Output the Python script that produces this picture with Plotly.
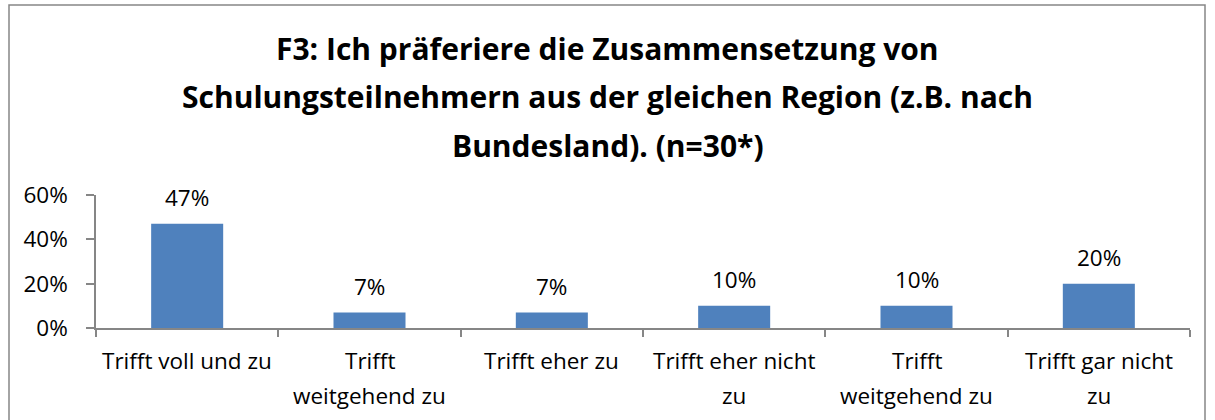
import plotly.graph_objects as go

categories = ["Trifft voll und zu", "Trifft<br>weitgehend zu", "Trifft eher zu",
              "Trifft eher nicht<br>zu", "Trifft<br>weitgehend zu", "Trifft gar nicht<br>zu"]
values = [0.47, 0.07, 0.07, 0.10, 0.10, 0.20]
value_labels = ["47%", "7%", "7%", "10%", "10%", "20%"]
title_lines = ["F3: Ich präferiere die Zusammensetzung von",
               "Schulungsteilnehmern aus der gleichen Region (z.B. nach",
               "Bundesland). (n=30*)"]
y_ticks = [0, 0.2, 0.4, 0.6]

W, H = 1215, 420
L, R, T, B = 96, 1190, 195, 328
FONT = "Open Sans, sans-serif"
BAR = "#4F81BD"
AXIS = "#868686"
FS = 22.5

def px_x(px):
    return (px - L) / (R - L)

def px_y(py):
    return (B - py) / (B - T)

xs = list(range(len(values)))

fig = go.Figure()
fig.add_trace(go.Bar(x=xs, y=values, marker=dict(color=BAR, line=dict(width=0)),
                     width=0.395, hoverinfo="skip"))

ann = []
for i, (v, lab) in enumerate(zip(values, value_labels)):
    ann.append(dict(x=i, y=v, xref="x", yref="y", text=lab, showarrow=False,
                    yanchor="middle", yshift=26, font=dict(family=FONT, size=FS, color="#000")))
for i, c in enumerate(categories):
    for j, line in enumerate(c.split("<br>")):
        ann.append(dict(x=i, y=0, xref="x", yref="y", text=line, showarrow=False,
                        yanchor="middle", yshift=-32 - 35 * j,
                        font=dict(family=FONT, size=FS, color="#000")))
for j, (line, cy) in enumerate(zip(title_lines, [48, 97, 145])):
    ann.append(dict(x=px_x(W / 2), y=px_y(cy), xref="paper", yref="paper", text="<b>" + line + "</b>",
                    showarrow=False, xanchor="center", yanchor="middle",
                    font=dict(family=FONT, size=30, color="#000")))

fig.update_layout(
    width=W, height=H,
    margin=dict(l=L, r=W - R, t=T, b=H - B, pad=0),
    paper_bgcolor="white", plot_bgcolor="white",
    showlegend=False,
    annotations=ann,
    shapes=[dict(type="rect", xref="paper", yref="paper",
                 x0=px_x(9), x1=px_x(1205), y0=px_y(430), y1=px_y(5),
                 line=dict(color=AXIS, width=1.5), fillcolor="rgba(0,0,0,0)", layer="below")],
    xaxis=dict(range=[-0.5, len(values) - 0.5], showticklabels=False, ticks="",
               showline=True, linecolor=AXIS, linewidth=1.5, showgrid=False, zeroline=False,
               minor=dict(tickvals=[i - 0.5 for i in range(len(values) + 1)], ticks="outside",
                          ticklen=7, tickcolor=AXIS, tickwidth=1.5, showgrid=False)),
    yaxis=dict(range=[0, 0.6], tickvals=y_ticks, tickformat=".0%", ticks="outside",
               ticklen=8, tickcolor=AXIS, tickwidth=1.5, showline=True, linecolor=AXIS,
               linewidth=1.5, showgrid=False, zeroline=False, ticklabelstandoff=14,
               tickfont=dict(family=FONT, size=FS, color="#000")),
)

fig.write_html("out.html", config={"displayModeBar": False},
               post_script="document.body.style.margin='0';document.body.style.overflow='hidden';")
